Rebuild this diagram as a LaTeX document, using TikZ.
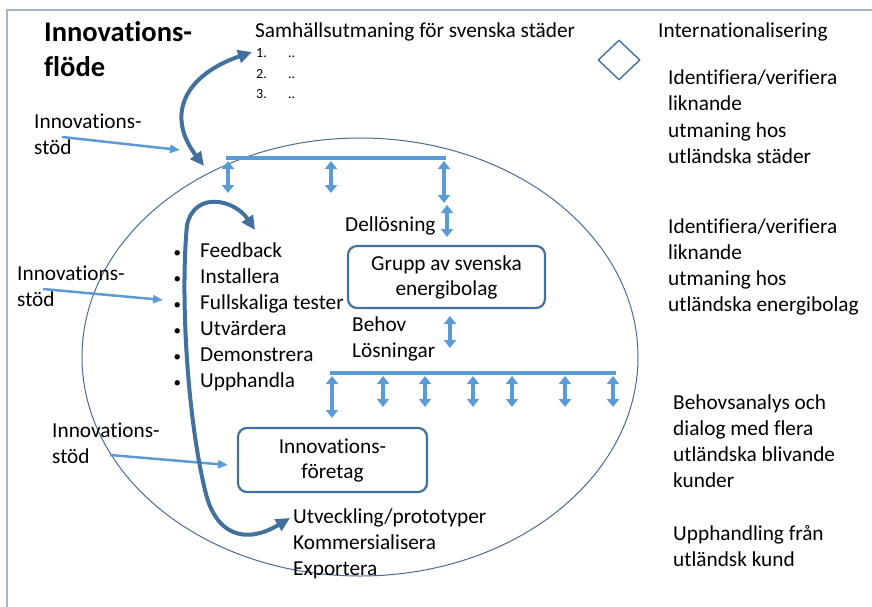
\documentclass[tikz,border=0pt]{standalone}
\usepackage{fontspec}
\setmainfont{Carlito}[Ligatures=NoCommon]
\usetikzlibrary{arrows.meta, shapes.geometric, positioning}
\definecolor{frameblue}{HTML}{A3B6CE}
\definecolor{darkblue}{HTML}{41719C}
\definecolor{lightblue}{HTML}{5B9BD5}
\definecolor{ringblue}{HTML}{4A6B94}
\newcommand{\dotitem}{\llap{{\fontsize{15}{15}\selectfont\textbullet}\hspace{19pt}}}

\begin{document}
\begin{tikzpicture}[x=1pt, y=-1pt,
  txt/.style={font=\fontsize{21.3}{26}\selectfont, align=left, inner sep=0pt, anchor=base west},
  heading/.style={font=\fontsize{28.5}{35}\selectfont\bfseries, align=left, inner sep=0pt, anchor=base west},
  listtxt/.style={font=\fontsize{14}{20.5}\selectfont, align=left, inner sep=0pt, anchor=base west},
  box/.style={rectangle, draw=darkblue, line width=2.2pt, rounded corners=9pt, align=center,
    font=\fontsize{21.3}{25}\selectfont},
  bar/.style={lightblue, line width=3.5pt},
  dbl/.style={lightblue, line width=3.5pt, {Triangle[length=8pt,width=12pt]}-{Triangle[length=8pt,width=12pt]}},
  supp/.style={lightblue, line width=2.5pt, -{Triangle[length=10pt,width=8pt]}},
  flow/.style={darkblue, line width=4pt, {Triangle[length=14pt,width=13pt]}-{Triangle[length=14pt,width=13pt]}}]
  \useasboundingbox (0,0) rectangle (872,607);
  \draw[frameblue, line width=1.5pt] (7,607) -- (7,10) -- (872,10);

  \draw[ringblue, line width=1pt] (360,357) ellipse [x radius=278, y radius=219];

  % multi-line texts sit on the baseline of their last line
  \node[heading] (title) at (44,77) {Innovations-\\flöde};
  \node[txt] (challenge) at (255,38) {Samhällsutmaning för svenska städer};
  \node[listtxt] (items) at (256,99) {\makebox[32pt][l]{1.}..\\\makebox[32pt][l]{2.}..\\\makebox[32pt][l]{3.}..};
  \node[txt] (intl) at (658,38) {Internationalisering};
  \node[diamond, draw=darkblue, line width=1.4pt, minimum width=42pt, minimum height=40pt, inner sep=0pt] (dia) at (619,60) {};
  \node[txt] (cities) at (668,163) {Identifiera/verifiera\\liknande\\utmaning hos\\utländska städer};
  \node[txt] (utilities) at (668,311) {Identifiera/verifiera\\liknande\\utmaning hos\\utländska energibolag};
  \node[txt] (dialog) at (673,487) {Behovsanalys och\\dialog med flera\\utländska blivande\\kunder};
  \node[txt] (procure) at (673,566) {Upphandling från\\utländsk kund};

  \node[txt] (stod1) at (34,154) {Innovations-\\stöd};
  \node[txt] (stod2) at (17,306) {Innovations-\\stöd};
  \node[txt] (stod3) at (52,463) {Innovations-\\stöd};

  \node[txt] (part) at (345,231) {Dellösning};
  \node[box, minimum width=197pt, minimum height=62pt] (group) at (446.5,277) {Grupp av svenska\\energibolag};
  \node[txt] (needs) at (352,357) {Behov\\Lösningar};
  \node[txt] (steps) at (200,387) {\dotitem Feedback\\
    \dotitem Installera\\
    \dotitem Fullskaliga tester\\
    \dotitem Utvärdera\\
    \dotitem Demonstrera\\
    \dotitem Upphandla};
  \node[box, minimum width=189pt, minimum height=64pt] (company) at (332.5,460) {Innovations-\\företag};
  \node[txt] (develop) at (293,575) {Utveckling/prototyper\\Kommersialisera\\Exportera};

  \coordinate (s1) at (62,137);  \coordinate (t1) at (180,150);
  \coordinate (s2) at (43,289);  \coordinate (t2) at (163,300);
  \coordinate (s3) at (110,455); \coordinate (t3) at (228,465);
  \draw[supp] (s1) -- (t1);
  \draw[supp] (s2) -- (t2);
  \draw[supp] (s3) -- (t3);

  \draw[bar] (226,158) -- (446,158);
  \draw[dbl] (228,161) -- (228,193);
  \draw[dbl] (331,161) -- (331,193);
  \draw[dbl] (444,161) -- (444,203);
  \draw[dbl] (447,205) -- (447,237);
  \draw[dbl] (450,316) -- (450,348);

  \draw[bar] (330,373) -- (616,373);
  \draw[dbl] (332,376) -- (332,418);
  \foreach \x in {383,425,473,512,565,613}
    \draw[dbl] (\x,376) -- (\x,407);

  \coordinate (up1) at (252,52);  \coordinate (up2) at (204,166);
  \draw[flow] (up1) .. controls (185,75) and (165,115) .. (up2);
  \coordinate (lp1) at (255,230); \coordinate (lp2) at (290,518);
  \draw[flow] (lp1) .. controls (235,200) and (195,190) .. (187,225)
    .. controls (180,300) and (188,420) .. (205,490)
    .. controls (215,535) and (245,545) .. (lp2);
\end{tikzpicture}
\end{document}
